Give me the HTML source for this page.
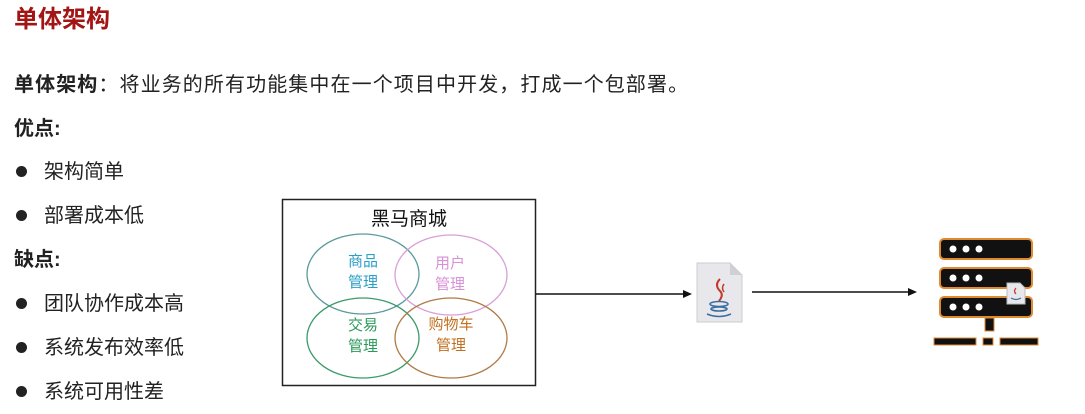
<!DOCTYPE html>
<html><head><meta charset="utf-8"><style>
body{margin:0;width:1085px;height:414px;background:#fff;position:relative;overflow:hidden;font-family:"Liberation Sans","Noto Sans CJK SC",sans-serif;color:#222}
.t{position:absolute;white-space:nowrap;line-height:1}
.b{font-weight:bold}
.dot{position:absolute;width:11px;height:11px;border-radius:50%;background:#222;left:16px}
</style></head><body>
<div class="t b" style="left:14px;top:8px;font-size:24px;color:#a31414">单体架构</div>
<div class="t" style="left:14px;top:75px;font-size:20px;letter-spacing:1.1px"><b>单体架构</b>：将业务的所有功能集中在一个项目中开发，打成一个包部署。</div>
<div class="t b" style="left:14px;top:119px;font-size:20px">优点:</div>
<div class="dot" style="top:166px"></div><div class="t" style="left:44px;top:162px;font-size:20px">架构简单</div>
<div class="dot" style="top:210px"></div><div class="t" style="left:44px;top:206px;font-size:20px">部署成本低</div>
<div class="t b" style="left:14px;top:250px;font-size:20px">缺点:</div>
<div class="dot" style="top:298px"></div><div class="t" style="left:44px;top:294px;font-size:20px">团队协作成本高</div>
<div class="dot" style="top:342px"></div><div class="t" style="left:44px;top:338px;font-size:20px">系统发布效率低</div>
<div class="dot" style="top:386px"></div><div class="t" style="left:44px;top:382px;font-size:20px">系统可用性差</div>

<svg width="1085" height="414" style="position:absolute;left:0;top:0" font-family="Liberation Sans,Noto Sans CJK SC,sans-serif">
<rect x="282.5" y="199.5" width="253" height="186" fill="none" stroke="#222" stroke-width="1.5"/>
<text x="409" y="225" font-size="19" text-anchor="middle" fill="#111">黑马商城</text>
<ellipse cx="363" cy="274" rx="56" ry="40" fill="none" stroke="#5a9a9a" stroke-width="1.3"/>
<ellipse cx="451" cy="275" rx="56" ry="40" fill="none" stroke="#d8a0d8" stroke-width="1.3"/>
<ellipse cx="363" cy="338" rx="56" ry="40" fill="none" stroke="#3a9a6a" stroke-width="1.3"/>
<ellipse cx="451" cy="338" rx="56" ry="40" fill="none" stroke="#b07a45" stroke-width="1.3"/>
<g font-size="15" text-anchor="middle">
<text x="363" y="266" fill="#2aa0c8">商品</text><text x="363" y="287" fill="#2aa0c8">管理</text>
<text x="450" y="268" fill="#d890d8">用户</text><text x="450" y="289" fill="#d890d8">管理</text>
<text x="363" y="330" fill="#2a9a5a">交易</text><text x="363" y="351" fill="#2a9a5a">管理</text>
<text x="451" y="329" fill="#c07020">购物车</text><text x="451" y="350" fill="#c07020">管理</text>
</g>
<line x1="536" y1="294" x2="684" y2="294" stroke="#111" stroke-width="1.5"/>
<polygon points="692,294 683,290 683,298" fill="#111"/>
<line x1="752" y1="292" x2="909" y2="292" stroke="#111" stroke-width="1.5"/>
<polygon points="917,292 908,288 908,296" fill="#111"/>
<g>
<path d="M697 263 H730 L742 275 V322 H697 Z" fill="#e8e8ec" stroke="#ccc"/>
<path d="M730 263 V275 H742" fill="#d0d0d4"/>
<path d="M720 279 q-6 6 0 12 q4 4 -1 10" fill="none" stroke="#c0392b" stroke-width="2"/>
<path d="M724 284 q-3 4 0 8" fill="none" stroke="#c0392b" stroke-width="1.5"/>
<ellipse cx="719" cy="304" rx="9" ry="2.5" fill="none" stroke="#3a6ea0" stroke-width="1.6"/>
<ellipse cx="719" cy="309" rx="8" ry="2" fill="none" stroke="#3a6ea0" stroke-width="1.6"/>
<path d="M707 314 q12 5 24 0" fill="none" stroke="#3a6ea0" stroke-width="1.6"/>
</g>
<g fill="#111" stroke="#e08a30" stroke-width="2">
<rect x="940" y="239" width="92" height="20" rx="4"/>
<rect x="940" y="268" width="92" height="20" rx="4"/>
<rect x="940" y="297" width="92" height="20" rx="4"/>
<rect x="985" y="318" width="9" height="13" stroke-width="1"/>
<rect x="934" y="338" width="42" height="7" stroke-width="1"/>
<rect x="983" y="338" width="10" height="7" stroke-width="1"/>
<rect x="1000" y="338" width="38" height="7" stroke-width="1"/>
</g>
<g fill="#fff">
<circle cx="953" cy="249" r="3.5"/><circle cx="966" cy="249" r="3.5"/><circle cx="979" cy="249" r="3.5"/>
<circle cx="953" cy="278" r="3.5"/><circle cx="966" cy="278" r="3.5"/><circle cx="979" cy="278" r="3.5"/>
<circle cx="953" cy="307" r="3.5"/><circle cx="966" cy="307" r="3.5"/><circle cx="979" cy="307" r="3.5"/>
</g>
<path d="M1007 283 H1020 L1025 288 V304 H1007 Z" fill="#e8e8ec" stroke="#bbb"/>
<path d="M1016 288 q-3 3 0 6" fill="none" stroke="#c0392b" stroke-width="1.2"/>
<path d="M1011 298 q5 3 10 0" fill="none" stroke="#3a6ea0" stroke-width="1.2"/>
</svg>
</body></html>
